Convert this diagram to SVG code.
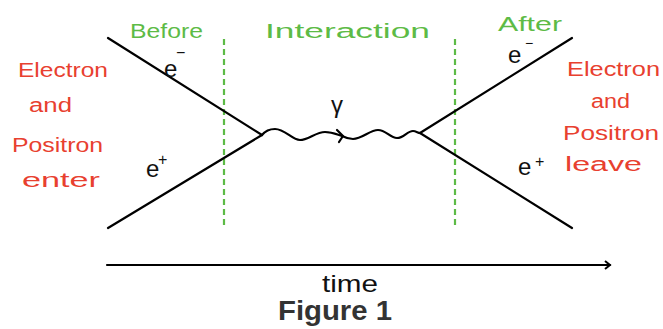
<svg xmlns="http://www.w3.org/2000/svg" width="663" height="329" viewBox="0 0 663 329">
<style>
.hand{font-family:"Liberation Sans","DejaVu Sans",sans-serif;}
.red{fill:#e8402f;font-size:20px;}
.green{fill:#5dbb46;font-size:20px;}
.blk{fill:#111;font-size:24px;}
.sup{fill:#111;}
.line{stroke:#000;stroke-width:2.2;fill:none;stroke-linecap:round;stroke-linejoin:round;}
.dash{stroke:#5dbb46;stroke-width:2.2;stroke-dasharray:6 4;fill:none;}
</style>
<defs>
<marker id="ah" markerWidth="10" markerHeight="10" refX="8" refY="5" orient="auto" markerUnits="userSpaceOnUse">
<path d="M3,1 L8,5 L3,9" fill="none" stroke="#000" stroke-width="2"/>
</marker>
</defs>
<rect width="663" height="329" fill="#fff"/>
<g id="dividers">
<line class="dash" x1="224" y1="39" x2="224" y2="228"/>
<line class="dash" x1="455" y1="39" x2="455" y2="228"/>
</g>
<g id="connectors">
<line class="line" x1="108" y1="38" x2="262" y2="135"/>
<line class="line" x1="108" y1="228" x2="262" y2="135"/>
<line class="line" x1="572" y1="38" x2="420" y2="133"/>
<line class="line" x1="572" y1="228" x2="420" y2="133"/>
<path class="line" d="M262,135 C266,130 270,129 275,129 C285,129 292,140 300,140 C308,140 316,132 325,132 C333,132 338,135 342,136 C346,138 348,139 353,139 C362,139 370,130 378,130 C386,130 390,138 397,138 C404,138 407,131 413,131 C416,131 418,133 420,133"/>
<path d="M337,130 L343,136 L339,142" fill="none" stroke="#000" stroke-width="2.2" stroke-linecap="round" stroke-linejoin="round"/>
<line class="line" x1="107" y1="265" x2="610" y2="265" marker-end="url(#ah)"/>
</g>
<g id="labels" class="hand">
<text class="green" x="130" y="38" textLength="73" lengthAdjust="spacingAndGlyphs">Before</text>
<text class="green" x="265" y="38" textLength="165" lengthAdjust="spacingAndGlyphs">Interaction</text>
<text class="green" x="498" y="31" textLength="64" lengthAdjust="spacingAndGlyphs">After</text>
<text class="red" x="18" y="77" textLength="90" lengthAdjust="spacingAndGlyphs">Electron</text>
<text class="red" x="29" y="112" textLength="43" lengthAdjust="spacingAndGlyphs">and</text>
<text class="red" x="12" y="152" textLength="91" lengthAdjust="spacingAndGlyphs">Positron</text>
<text class="red" x="22" y="187" textLength="78" lengthAdjust="spacingAndGlyphs">enter</text>
<text class="red" x="567" y="76" textLength="93" lengthAdjust="spacingAndGlyphs">Electron</text>
<text class="red" x="591" y="108" textLength="39" lengthAdjust="spacingAndGlyphs">and</text>
<text class="red" x="563" y="140" textLength="96" lengthAdjust="spacingAndGlyphs">Positron</text>
<text class="red" x="565" y="171" textLength="77" lengthAdjust="spacingAndGlyphs">leave</text>
<text class="blk" x="164" y="77">e</text><text class="sup" x="176" y="58" font-size="16">−</text>
<text class="blk" x="146" y="177">e</text><text class="sup" x="158" y="165" font-size="16">+</text>
<text class="blk" x="508" y="63">e</text><text class="sup" x="525" y="48" font-size="14">−</text>
<text class="blk" x="518" y="175">e</text><text class="sup" x="535" y="167" font-size="16">+</text>
<text class="blk" x="331" y="113" font-size="20">γ</text>
<text class="blk" x="322" y="292" font-size="20" textLength="56" lengthAdjust="spacingAndGlyphs">time</text>
</g>
<text x="278" y="320" font-family="Liberation Sans, DejaVu Sans, sans-serif" font-weight="bold" font-size="28" fill="#333" textLength="114" lengthAdjust="spacingAndGlyphs">Figure 1</text>
</svg>
